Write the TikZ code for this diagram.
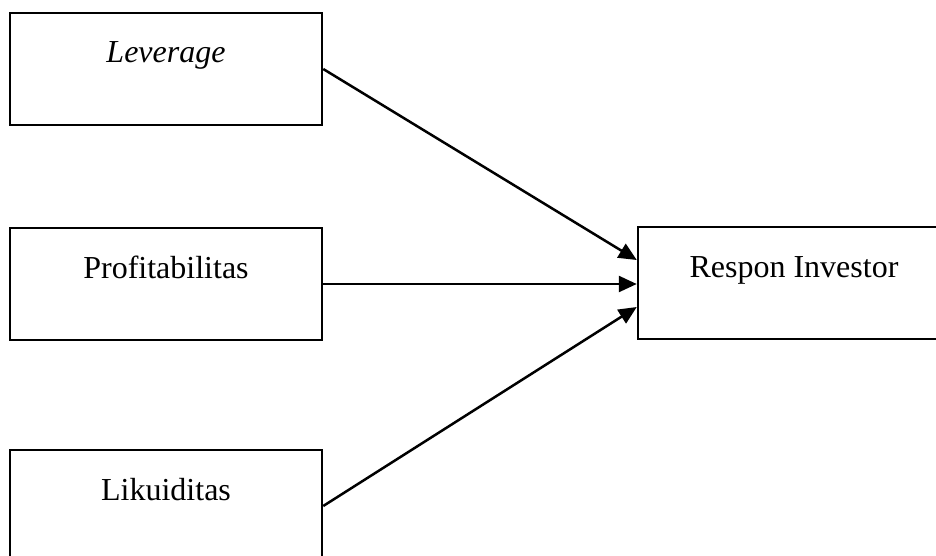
\documentclass[tikz,border=0pt]{standalone}
\usepackage{fontspec}
\setmainfont{Liberation Serif}
\usetikzlibrary{arrows.meta,positioning}
\tikzset {
  >={Triangle[length=9pt,width=8pt]},
  every node/.style={font=\fontsize{16}{19}\selectfont},
  varbox/.style={draw,line width=1.25pt,minimum width=156pt,minimum height=56pt,
    inner sep=0pt,text height=11pt,text depth=17pt},
}
\begin{document}
\begin{tikzpicture}[x=0.5pt,y=-0.5pt,line width=1.25pt]
  \useasboundingbox (0,0) rectangle (936,556);
  \clip (0,0) rectangle (936,556);
  \node[varbox] (lev) at (166,69) {\textit{Leverage}};
  \node[varbox] (prof) at (166,284) {Profitabilitas};
  \node[varbox] (lik) at (166,506) {Likuiditas};
  \node[varbox] (resp) at (794,283) {Respon Investor};
  \draw[->] (lev.east) -- ([yshift=11.5pt]resp.west);
  \draw[->] (prof.east) -- (resp.west |- prof.east);
  \draw[->] (lik.east) -- ([yshift=-12pt]resp.west);
\end{tikzpicture}
\end{document}
